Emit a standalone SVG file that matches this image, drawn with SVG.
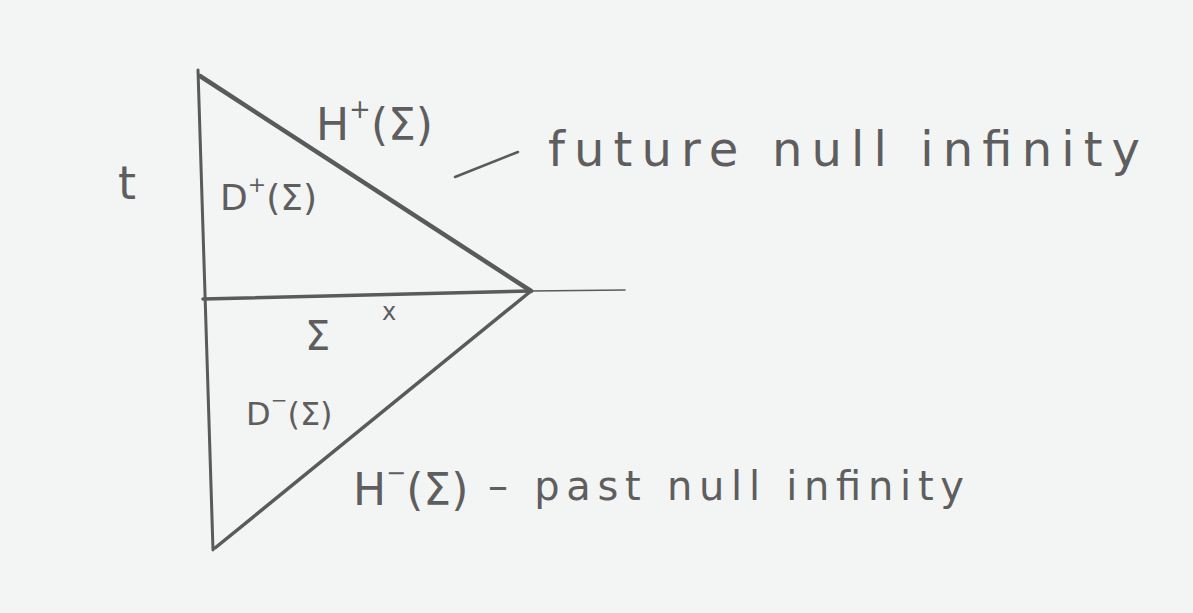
<svg xmlns="http://www.w3.org/2000/svg" width="1193" height="613" viewBox="0 0 1193 613">
<style>
.ln{stroke:#5a5a5a;fill:none;stroke-linecap:round}
.t{font-family:"DejaVu Sans",sans-serif;fill:#5e5e5e;font-weight:normal}
</style>
<rect x="0" y="0" width="1193" height="613" fill="#f3f4f4"/>
<g id="connectors">
<line class="ln" x1="198" y1="70" x2="213" y2="550" stroke-width="3"/>
<line class="ln" x1="200" y1="76" x2="531" y2="291" stroke-width="4.5"/>
<line class="ln" x1="203" y1="299" x2="531" y2="291" stroke-width="3.5"/>
<line class="ln" x1="531" y1="291" x2="625" y2="290" stroke-width="1.5" stroke="#9a9a9a"/>
<line class="ln" x1="531" y1="291" x2="215" y2="548" stroke-width="3.5"/>
<line class="ln" x1="455" y1="177" x2="518" y2="152" stroke-width="2.5"/>
</g>
<g id="label-t"><text class="t" x="118" y="199" font-size="46">t</text></g>
<g id="label-Hplus"><text class="t" x="316" y="140" font-size="44">H<tspan font-size="26" dy="-22">+</tspan><tspan dy="22">(Σ)</tspan></text></g>
<g id="label-Dplus"><text class="t" x="220" y="210" font-size="36">D<tspan font-size="22" dy="-18">+</tspan><tspan dy="18">(Σ)</tspan></text></g>
<g id="label-future"><text class="t" x="548" y="166" font-size="48" textLength="592" lengthAdjust="spacing">future null infinity</text></g>
<g id="label-Sigma"><text class="t" x="305" y="350" font-size="40">Σ</text></g>
<g id="label-x"><text class="t" x="382" y="320" font-size="24">x</text></g>
<g id="label-Dminus"><text class="t" x="246" y="425" font-size="32">D<tspan font-size="20" dy="-18">−</tspan><tspan dy="18">(Σ)</tspan></text></g>
<g id="label-Hminus"><text class="t" x="353" y="505" font-size="44">H<tspan font-size="24" dy="-24">−</tspan><tspan dy="24">(Σ)</tspan></text></g>
<g id="label-past"><text class="t" x="488" y="500" font-size="40" textLength="476" lengthAdjust="spacing">– past null infinity</text></g>
</svg>
